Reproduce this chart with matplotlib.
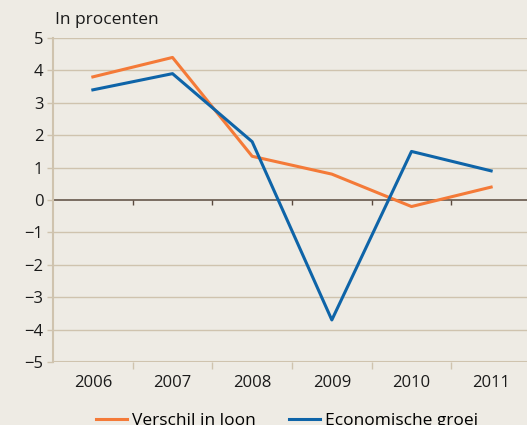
import matplotlib.pyplot as plt
import numpy as np

years = ['2006', '2007', '2008', '2009', '2010', '2011']
verschil_loon = [3.8, 4.4, 1.35, 0.8, -0.2, 0.4]
economische_groei = [3.4, 3.9, 1.8, -3.7, 1.5, 0.9]
y_ticks = [5, 4, 3, 2, 1, 0, -1, -2, -3, -4, -5]

bg = '#eeebe4'
grid_col = '#cfc3ae'
orange = '#f47a38'
blue = '#0e64a8'

plt.rcParams['font.family'] = ['Open Sans', 'DejaVu Sans']

fig = plt.figure(figsize=(5.27, 4.25), dpi=100, facecolor=bg)
ax = fig.add_axes([0.1006, 0.148, 0.8994, 0.7626])
ax.set_facecolor(bg)

x = np.arange(len(years))
ax.plot(x, verschil_loon, color=orange, lw=2.2, label='Verschil in loon', zorder=3)
ax.plot(x, economische_groei, color=blue, lw=2.2, label='Economische groei', zorder=3)

ax.set_xlim(-0.5, 5.45)
ax.set_ylim(-5, 5)

# gridlines
for v in y_ticks:
    if v == 0:
        ax.axhline(0, color='#5a4a3e', lw=1.1, zorder=2)
    elif v != 5 and v != -5:
        ax.axhline(v, color=grid_col, lw=1.0, zorder=1)
ax.axhline(5, color=grid_col, lw=1.0, zorder=1)
ax.axhline(-5, color=grid_col, lw=1.5, zorder=1)

# small ticks hanging from zero line at category boundaries
bounds = np.arange(0.5, len(years) - 0.5, 1)
ax.vlines(bounds, -0.15, 0, color='#5a4a3e', lw=1.0, zorder=2)

for s in ['top', 'right', 'bottom']:
    ax.spines[s].set_visible(False)
ax.spines['left'].set_color(grid_col)
ax.spines['left'].set_linewidth(1.5)

ax.set_yticks(y_ticks)
ax.set_yticklabels([str(v).replace('-', '\u2212') for v in y_ticks])
ax.tick_params(axis='y', length=4, color=grid_col, width=1, labelsize=12, pad=3, labelcolor='#1a1a1a')

ax.set_xticks(x)
ax.set_xticklabels(years)
ax.set_xticks(bounds, minor=True)
ax.tick_params(axis='x', which='major', length=0, labelsize=12, pad=9, labelcolor='#1a1a1a')
ax.tick_params(axis='x', which='minor', length=5, color=grid_col, width=1)

fig.text(0.104, 0.935, 'In procenten', fontsize=12.5, color='#1a1a1a', va='bottom', ha='left')

fig.legend(loc='upper center', bbox_to_anchor=(0.545, 0.065), ncol=2, frameon=False,
           fontsize=12.5, handlelength=1.8, handletextpad=0.3, columnspacing=1.9)

fig.savefig('out.png', dpi=100, facecolor=bg)
